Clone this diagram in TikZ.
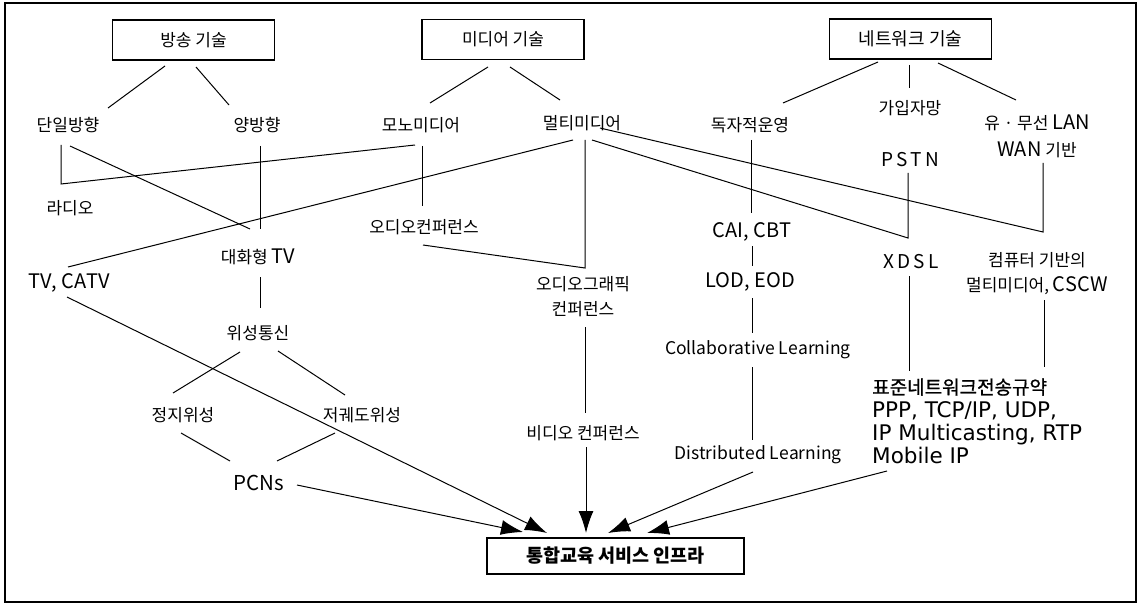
\documentclass[tikz,border=0pt]{standalone}
\usepackage{fontspec}
\setmainfont{Noto Sans CJK KR}[Kerning=Off]
\newfontfamily\dejavu{DejaVu Sans}
\newfontfamily\krwide{Noto Sans CJK KR}[Kerning=Off, FakeBold=1]
\newcommand{\lt}[1]{{\fontsize{20}{25}\selectfont #1}}
\newcommand{\dv}[1]{{\dejavu\fontsize{21.5}{23}\selectfont #1}}
\usetikzlibrary{calc,arrows.meta}
\begin{document}
\begin{tikzpicture}[x=1pt,y=-1pt,
  every node/.style={font=\fontsize{17}{25}\selectfont, inner sep=0pt, align=center},
  topbox/.style={draw, line width=1.3pt, minimum width=162pt, minimum height=40pt},
  conn/.style={line width=1pt},
  arr/.style={line width=1pt, -{Latex[length=22pt,width=15pt]}}]
\useasboundingbox (0,0) rectangle (1139,604);
\draw[line width=1.3pt] (5,3) rectangle (1136,602);

% top boxes
\node[topbox] (bang) at (193.5,40) {방송 기술};
\node[topbox] (media) at (503,39.5) {미디어 기술};
\node[topbox, font=\fontsize{18}{25}\selectfont] (net) at (910.5,39) {네트워크 기술};
\node[draw, line width=1.3pt, minimum width=257pt, minimum height=36pt, font=\bfseries\fontsize{18.5}{22}\selectfont] (final) at (615.5,556) {통합교육 서비스 인프라};

% text nodes
\node (dan) at (68,125) {단일방향};
\node (yang) at (257,125) {양방향};
\node (radio) at (70,208) {라디오};
\node (itv) at (258,257) {대화형 \lt{TV}};
\node (tv) at (69,283) {\lt{TV, CATV}};
\node (mono) at (421,125) {모노미디어};
\node (multi) at (582,123) {멀티미디어};
\node (audio) at (424,227) {오디오컨퍼런스};
\node (ag) at (583,297) {오디오그래픽\\컨퍼런스};
\node (video) at (583,433) {비디오 컨퍼런스};
\node (indep) at (750,125) {독자적운영};
\node (sub) at (910,108) {가입자망};
\node[font=\fontsize{17}{27}\selectfont] (lan) at (1037,136) {유 · 무선 \lt{LAN}\\\lt{WAN} 기반};
\node[font=\fontsize{19}{25}\selectfont] (pstn) at (910,160) {P\,S\,T\,N};
\node (cai) at (752,232) {\lt{CAI, CBT}};
\node[font=\fontsize{19}{25}\selectfont] (xdsl) at (911,262) {X\,D\,S\,L};
\node (comp) at (1037,274) {컴퓨터 기반의\\멀티미디어, \lt{CSCW}};
\node (lod) at (750,282) {\lt{LOD, EOD}};
\node[font=\fontsize{17.5}{25}\selectfont] (collab) at (758,350) {Collaborative Learning};
\node[font=\fontsize{17.5}{25}\selectfont] (dist) at (758,455) {Distributed Learning};
\node[anchor=west, align=left, font=\fontsize{19}{23}\selectfont] (std) at (872,421)
  {{\krwide\fontsize{19}{23}\selectfont 표준네트워크전송규약}\\\dv{PPP, TCP/IP, UDP,}\\\dv{IP Multicasting, RTP}\\\dv{Mobile IP}};
\node (sat) at (258,333) {위성통신};
\node (geo) at (183,415) {정지위성};
\node (leo) at (362,415) {저궤도위성};
\node[font=\fontsize{20.5}{25}\selectfont] (pcn) at (259,483) {PCNs};

% corner coordinate
\coordinate (radioc) at ($(radio)+(-9,-24)$);

% connectors
\draw[conn] ($(bang)+(-28.5,26)$) -- ($(dan)+(40,-17)$);
\draw[conn] ($(bang)+(2.5,27)$) -- ($(yang)+(-28,-20)$);
\draw[conn] ($(media)+(-15,27.5)$) -- ($(mono)+(9,-22)$);
\draw[conn] ($(media)+(7,27.5)$) -- ($(multi)+(-22,-23)$);
\draw[conn] ($(net)+(-32.5,23)$) -- ($(indep)+(33,-22)$);
\draw[conn] ($(net)+(-1.5,26)$) -- ($(sub)+(-1,-20)$);
\draw[conn] ($(net)+(27.5,24)$) -- ($(lan)+(-21,-36)$);
\draw[conn] ($(dan)+(-7,20)$) -- (radioc) -- ($(mono)+(-6,20)$);
\draw[conn] ($(dan)+(2,21)$) -- ($(itv)+(-8,-28)$);
\draw[conn] ($(yang)+(3,21)$) -- ($(itv)+(2,-28)$);
\draw[conn] ($(multi)+(-9,17)$) -- ($(tv)+(-1,-16)$);
\draw[conn] ($(mono)+(1,21)$) -- ($(audio)+(-2,-21)$);
\draw[conn] ($(multi)+(3,17)$) -- ($(ag)+(2,-29)$) -- ($(audio)+(-1,18)$);
\draw[conn] ($(multi)+(10,17)$) -- ($(xdsl)+(-3,-24)$) -- ($(pstn)+(-2,13)$);
\draw[conn] ($(multi)+(18,5)$) -- ($(comp)+(6,-42)$) -- ($(lan)+(6,27)$);
\draw[conn] ($(indep)+(1,15)$) -- ($(cai)+(-1,-19)$);
\draw[conn] ($(cai)+(0,14)$) -- ($(lod)+(2,-16)$);
\draw[conn] ($(lod)+(2,16)$) -- ($(collab)+(-6,-17)$);
\draw[conn] ($(collab)+(-6,17)$) -- ($(dist)+(-6,-15)$);
\draw[conn] ($(xdsl)+(-2,14)$) -- ($(std.west)+(37,-50)$);
\draw[conn] ($(comp)+(7,26)$) -- ($(std.west)+(172,-54)$);
\draw[conn] ($(itv)+(2,20)$) -- ($(sat)+(2,-25)$);
\draw[conn] ($(sat)+(-18,19)$) -- ($(geo)+(-10,-22)$);
\draw[conn] ($(sat)+(20,18)$) -- ($(leo)+(-17,-20)$);
\draw[conn] ($(geo)+(-2,18)$) -- ($(pcn)+(-29,-22)$);
\draw[conn] ($(leo)+(-27,18)$) -- ($(pcn)+(18,-22)$);
\draw[conn] ($(ag)+(2,30)$) -- ($(video)+(2,-20)$);

% arrows into final
\draw[arr] ($(tv)+(-2,14)$) -- ($(final)+(-68.5,-23)$);
\draw[arr] ($(pcn)+(38,2)$) -- ($(final)+(-92.5,-24)$);
\draw[arr] ($(video)+(3,14)$) -- ($(final)+(-29.5,-23)$);
\draw[arr] ($(dist)+(-5,17)$) -- ($(final)+(-7.5,-23)$);
\draw[arr] ($(std.west)+(15,50)$) -- ($(final)+(31.5,-23)$);
\end{tikzpicture}
\end{document}
